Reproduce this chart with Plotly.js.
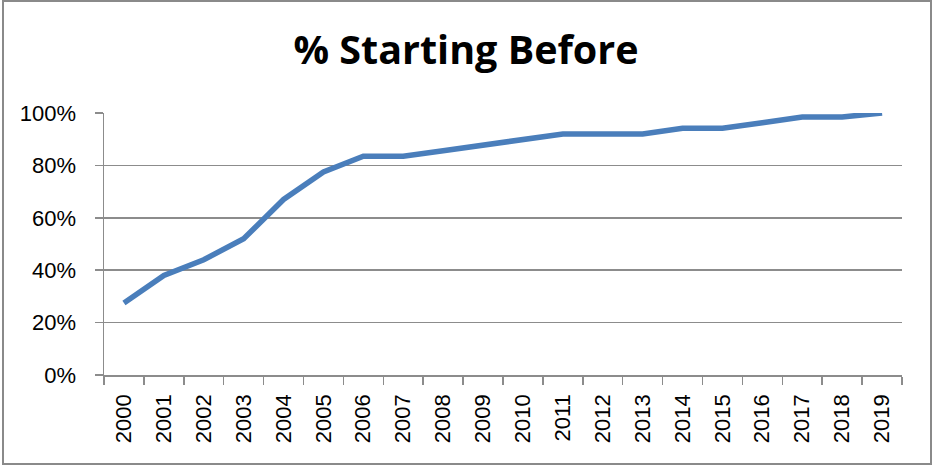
<!DOCTYPE html>
<html>
<head>
<meta charset="utf-8">
<script src="https://cdn.plot.ly/plotly-3.0.1.min.js"></script>
<style>
  html, body { margin: 0; padding: 0; background: #fff; }
  #wrap { position: relative; width: 932px; height: 465px; }
  #chart { width: 932px; height: 465px; }
  #frame { position: absolute; left: 2px; top: 0px; width: 926px; height: 461px;
           border: 2px solid #8a8a8a; pointer-events: none; }
  text { font-variant-ligatures: none; }
</style>
</head>
<body>
<div id="wrap"><div id="chart"></div><div id="frame"></div></div>
<script>
const years = ['2000','2001','2002','2003','2004','2005','2006','2007','2008','2009',
               '2010','2011','2012','2013','2014','2015','2016','2017','2018','2019'];
const pctStartingBefore = [0.275, 0.38, 0.44, 0.52, 0.67, 0.775, 0.835, 0.835, 0.856, 0.877,
                           0.898, 0.92, 0.92, 0.92, 0.942, 0.942, 0.963, 0.985, 0.985, 1.0];
const chartTitle = '% Starting Before';

const trace = {
  x: years,
  y: pctStartingBefore,
  type: 'scatter',
  mode: 'lines',
  line: { color: '#4a7ebb', width: 5.5 },
  hoverinfo: 'x+y'
};

const layout = {
  width: 932,
  height: 465,
  margin: { l: 104, r: 30, t: 113, b: 89.5 },
  paper_bgcolor: '#ffffff',
  plot_bgcolor: '#ffffff',
  showlegend: false,
  title: {
    text: '<b>' + chartTitle + '</b>',
    font: { family: '"Open Sans", "Liberation Sans", sans-serif', size: 39.5, color: '#000' },
    x: 0.5, xanchor: 'center',
    yref: 'container', y: 0.8925, yanchor: 'middle'
  },
  xaxis: {
    type: 'category',
    range: [-0.5, 19.5],
    tickson: 'boundaries',
    ticks: 'outside', ticklen: 8, tickcolor: '#8c8c8c', tickwidth: 1.5,
    showline: true, linecolor: '#8c8c8c', linewidth: 1.5,
    showgrid: false,
    tickangle: -90,
    ticklabelstandoff: 9,
    tickfont: { family: '"Liberation Sans", Arial, sans-serif', size: 22, color: '#000' }
  },
  yaxis: {
    range: [0, 1],
    dtick: 0.2,
    tickformat: '.0%',
    ticks: 'outside', ticklen: 8, tickcolor: '#8c8c8c', tickwidth: 1.5,
    showline: true, linecolor: '#8c8c8c', linewidth: 1.5,
    showgrid: true, gridcolor: '#8c8c8c', gridwidth: 1.5,
    zeroline: false,
    ticklabelstandoff: 14,
    tickfont: { family: '"Liberation Sans", Arial, sans-serif', size: 22, color: '#000' }
  }
};

Plotly.newPlot('chart', [trace], layout, { displayModeBar: false, staticPlot: true });
</script>
</body>
</html>
